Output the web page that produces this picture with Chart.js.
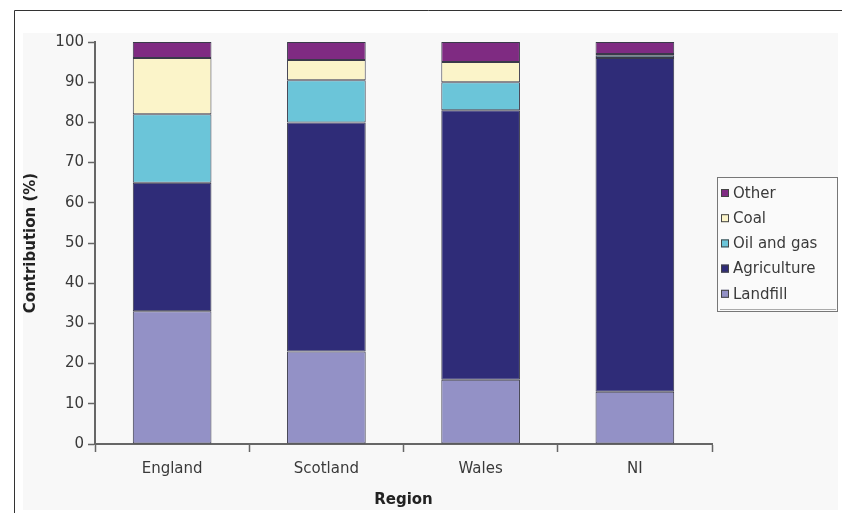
<!DOCTYPE html>
<html>
<head>
<meta charset="utf-8">
<script src="https://cdn.jsdelivr.net/npm/chart.js@4/dist/chart.umd.min.js"></script>
<style>
  html, body { margin: 0; padding: 0; background: #fff; }
  #wrap { position: relative; width: 842px; height: 513px; }
</style>
</head>
<body>
<div id="wrap"><canvas id="chart" width="842" height="513"></canvas></div>
<script>
// data (percent of total per region)
const regions = ['England', 'Scotland', 'Wales', 'NI'];
const landfill = [33, 23, 16, 13];
const agriculture = [32, 57, 67, 83];
const oilAndGas = [17, 10.5, 7, 0.6];
const coal = [14, 5, 5, 0.4];
const other = [4, 4.5, 5, 3];
const yTicks = [0, 10, 20, 30, 40, 50, 60, 70, 80, 90, 100];

const FONT = '"DejaVu Sans", Verdana, sans-serif';
const TEXT = '#3a3a3a';
const AXIS = '#666';

// panel + frame behind the chart
const background = {
    id: 'background',
    beforeDraw(chart) {
        const c = chart.ctx;
        c.save();
        c.fillStyle = '#fff';
        c.fillRect(0, 0, chart.width, chart.height);
        c.fillStyle = '#f8f8f8';
        c.fillRect(23, 33, 815, 477);
        c.strokeStyle = '#333';
        c.lineWidth = 1;
        c.beginPath();
        c.moveTo(14.5, 513);
        c.lineTo(14.5, 10.5);
        c.lineTo(842, 10.5);
        c.stroke();
        c.restore();
    }
};

// boxed legend on the right, top entry = top of the stack
const boxLegend = {
    id: 'boxLegend',
    afterDraw(chart) {
        const c = chart.ctx;
        const sets = chart.data.datasets.slice().reverse();
        c.save();
        c.fillStyle = '#fafafa';
        c.fillRect(717, 177, 121, 135);
        c.strokeStyle = '#777';
        c.lineWidth = 1;
        c.strokeRect(717.5, 177.5, 120, 134);
        c.strokeStyle = '#aaa';
        c.beginPath();
        c.moveTo(720, 309.5);
        c.lineTo(836, 309.5);
        c.stroke();
        c.font = '15px ' + FONT;
        c.textBaseline = 'middle';
        sets.forEach((ds, i) => {
            const y = 193 + i * 25.2;
            c.fillStyle = ds.backgroundColor;
            c.fillRect(721, y - 4, 8, 8);
            c.strokeStyle = '#444';
            c.strokeRect(721.5, y - 3.5, 7, 7);
            c.fillStyle = TEXT;
            c.fillText(ds.label, 733, y + 1);
        });
        c.restore();
    }
};

const mk = (label, data, color) => ({
    label: label,
    data: data,
    backgroundColor: color,
    borderColor: '#3a3a4a',
    borderWidth: 1,
    borderSkipped: false,
    barPercentage: 0.51,
    categoryPercentage: 1
});

new Chart(document.getElementById('chart'), {
    type: 'bar',
    data: {
        labels: regions,
        datasets: [
            mk('Landfill', landfill, '#9391c6'),
            mk('Agriculture', agriculture, '#2f2c78'),
            mk('Oil and gas', oilAndGas, '#6bc5d9'),
            mk('Coal', coal, '#fbf4c9'),
            mk('Other', other, '#7f2b82')
        ]
    },
    options: {
        responsive: false,
        animation: false,
        layout: { padding: { top: 42, right: 130, bottom: 0, left: 0 } },
        plugins: {
            legend: { display: false },
            tooltip: { enabled: false }
        },
        scales: {
            x: {
                stacked: true,
                afterFit: (s) => { s.height = 69; },
                grid: {
                    offset: true,
                    drawOnChartArea: false,
                    tickLength: 8,
                    tickColor: AXIS,
                    tickWidth: 1.5
                },
                border: { color: AXIS, width: 2 },
                ticks: { color: TEXT, font: { family: FONT, size: 15 }, padding: 8 },
                title: {
                    display: true,
                    text: 'Region',
                    color: '#222',
                    font: { family: FONT, size: 15, weight: 'bold' },
                    padding: { top: 0, bottom: 4 }
                }
            },
            y: {
                stacked: true,
                min: 0,
                max: 100,
                afterFit: (s) => { s.width = 95; },
                afterBuildTicks: (s) => { s.ticks = yTicks.map(v => ({ value: v })); },
                grid: {
                    drawOnChartArea: false,
                    tickLength: 7,
                    tickColor: AXIS,
                    tickWidth: 1.5
                },
                border: { color: AXIS, width: 2 },
                ticks: { color: TEXT, font: { family: FONT, size: 15 }, padding: 4 },
                title: {
                    display: true,
                    text: 'Contribution (%)',
                    color: '#222',
                    font: { family: FONT, size: 15, weight: 'bold' },
                    padding: { top: 22, bottom: 0 }
                }
            }
        }
    },
    plugins: [background, boxLegend]
});
</script>
</body>
</html>
